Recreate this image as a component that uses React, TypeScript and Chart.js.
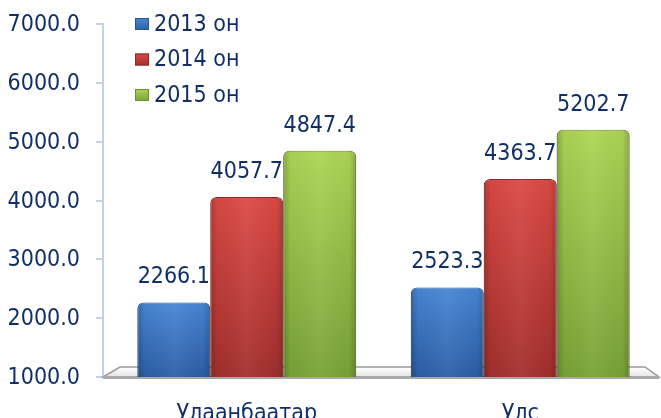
import React, { useEffect, useRef } from 'react';
import { Chart, registerables } from 'chart.js';

Chart.register(...registerables);

const categories = ['Улаанбаатар', 'Улс'];
const seriesNames = ['2013 он', '2014 он', '2015 он'];
const values2013 = [2266.1, 2523.3];
const values2014 = [4057.7, 4363.7];
const values2015 = [4847.4, 5202.7];
const yMin = 1000;
const yMax = 7000;
const yStep = 1000;

const FONT = '"DejaVu Sans Condensed", "Liberation Sans", sans-serif';
const TEXT = '#112f66';
const FS = 23;

const palettes = [
  { top: '#4887d6', bottom: '#2d5fa5', border: '#2a5590' },
  { top: '#dc4a45', bottom: '#a3302d', border: '#8c2a27' },
  { top: '#aed556', bottom: '#79a337', border: '#6a8f30' },
];

function barGradient(pi: number) {
  return (c: any) => {
    const chart = c.chart;
    const ca = chart.chartArea;
    const p = palettes[pi];
    if (!ca || c.raw == null) return p.top;
    const yTop = chart.scales.y.getPixelForValue(c.raw);
    const g = chart.ctx.createLinearGradient(0, yTop, 0, ca.bottom);
    g.addColorStop(0, p.top);
    g.addColorStop(1, p.bottom);
    return g;
  };
}

const decorPlugin = {
  id: 'decor',
  beforeDatasetsDraw(chart: any) {
    const { ctx, chartArea: ca } = chart;
    const ax = ca.left - 7;
    const yb = ca.bottom;
    ctx.save();
    // y axis line, tick marks and tick labels
    ctx.strokeStyle = '#c3d1e3';
    ctx.lineWidth = 2;
    ctx.beginPath();
    ctx.moveTo(ax, ca.top - 1);
    ctx.lineTo(ax, yb);
    ctx.stroke();
    const ys = chart.scales.y;
    ctx.font = `${FS}px ${FONT}`;
    ctx.textAlign = 'right';
    ctx.textBaseline = 'middle';
    ys.ticks.forEach((t: any) => {
      const py = Math.round(ys.getPixelForValue(t.value));
      ctx.beginPath();
      ctx.moveTo(ax - 7, py);
      ctx.lineTo(ax, py);
      ctx.stroke();
      ctx.fillStyle = TEXT;
      ctx.fillText(Number(t.value).toFixed(1), ax - 23, py + 1);
    });
    // floor
    const g = ctx.createLinearGradient(0, yb - 10, 0, yb);
    g.addColorStop(0, '#ffffff');
    g.addColorStop(1, '#e4e4e4');
    ctx.fillStyle = g;
    ctx.beginPath();
    ctx.moveTo(ax, yb);
    ctx.lineTo(ax + 17, yb - 10);
    ctx.lineTo(ca.right - 12, yb - 10);
    ctx.lineTo(ca.right + 2, yb);
    ctx.closePath();
    ctx.fill();
    ctx.strokeStyle = '#9a9a9a';
    ctx.lineWidth = 1.5;
    ctx.stroke();
    ctx.fillStyle = '#a8a8a8';
    ctx.fillRect(ax, yb - 1, ca.right + 2 - ax, 3);
    ctx.restore();
  },
  afterDatasetsDraw(chart: any) {
    const { ctx, chartArea: ca } = chart;
    ctx.save();
    chart.data.datasets.forEach((ds: any, di: number) => {
      const meta = chart.getDatasetMeta(di);
      meta.data.forEach((el: any, i: number) => {
        const { x, y, width } = el.getProps(['x', 'y', 'width'], true);
        const base = ca.bottom;
        const l = x - width / 2;
        const hg = ctx.createLinearGradient(l, 0, l + width, 0);
        hg.addColorStop(0, 'rgba(0,0,0,0.22)');
        hg.addColorStop(0.1, 'rgba(0,0,0,0.03)');
        hg.addColorStop(0.5, 'rgba(255,255,255,0.05)');
        hg.addColorStop(0.9, 'rgba(0,0,0,0.03)');
        hg.addColorStop(1, 'rgba(0,0,0,0.2)');
        ctx.fillStyle = hg;
        ctx.beginPath();
        (ctx as any).roundRect(l, y, width, base - y, [6, 6, 0, 0]);
        ctx.fill();
        ctx.fillStyle = TEXT;
        ctx.font = `${FS}px ${FONT}`;
        ctx.textAlign = 'center';
        ctx.textBaseline = 'middle';
        ctx.fillText(Number(ds.data[i]).toFixed(1), x, y - 25);
      });
    });
    ctx.restore();
  },
  afterDraw(chart: any) {
    const { ctx, chartArea: ca } = chart;
    ctx.save();
    const x0 = ca.left + 25;
    seriesNames.forEach((name, i) => {
      const cy = ca.top + i * 35.5;
      const p = palettes[i];
      const g = ctx.createLinearGradient(0, cy - 6, 0, cy + 6);
      g.addColorStop(0, p.top);
      g.addColorStop(1, p.bottom);
      ctx.fillStyle = g;
      ctx.fillRect(x0, cy - 6, 14, 12);
      ctx.strokeStyle = p.border;
      ctx.lineWidth = 1;
      ctx.strokeRect(x0 + 0.5, cy - 5.5, 13, 11);
      ctx.fillStyle = TEXT;
      ctx.font = `${FS}px ${FONT}`;
      ctx.textAlign = 'left';
      ctx.textBaseline = 'middle';
      ctx.fillText(name, x0 + 19, cy + 1);
    });
    ctx.restore();
  },
};

export default function App() {
  const ref = useRef<HTMLCanvasElement | null>(null);
  useEffect(() => {
    if (!ref.current) return;
    const seriesValues = [values2013, values2014, values2015];
    const chart = new Chart(ref.current, {
      type: 'bar',
      data: {
        labels: categories,
        datasets: seriesNames.map((name, i) => ({
          label: name,
          data: seriesValues[i],
          backgroundColor: barGradient(i),
          borderColor: palettes[i].border,
          borderWidth: 1,
          borderRadius: { topLeft: 6, topRight: 6, bottomLeft: 0, bottomRight: 0 },
          borderSkipped: 'bottom',
          categoryPercentage: 0.8,
          barPercentage: 1,
        })),
      },
      options: {
        animation: false,
        responsive: false,
        maintainAspectRatio: false,
        layout: { padding: { top: 24, right: 4, left: 0, bottom: 0 } },
        plugins: {
          legend: { display: false },
          tooltip: { enabled: false },
        },
        scales: {
          x: {
            grid: { display: false, drawTicks: false },
            border: { display: false },
            ticks: { color: TEXT, font: { family: FONT, size: FS }, padding: 23 },
            afterFit: (s: any) => { s.height = 41; },
          },
          y: {
            min: yMin,
            max: yMax,
            grid: { display: false, drawTicks: false },
            border: { display: false },
            ticks: { display: false, stepSize: yStep },
            afterFit: (s: any) => { s.width = 110; },
          },
        },
      },
      plugins: [decorPlugin],
    });
    return () => chart.destroy();
  }, []);
  return (
    <div style={{ position: 'fixed', left: 0, top: 0, width: 661, height: 418, background: '#fff' }}>
      <canvas ref={ref} width={661} height={418} style={{ width: 661, height: 418 }} />
    </div>
  );
}
